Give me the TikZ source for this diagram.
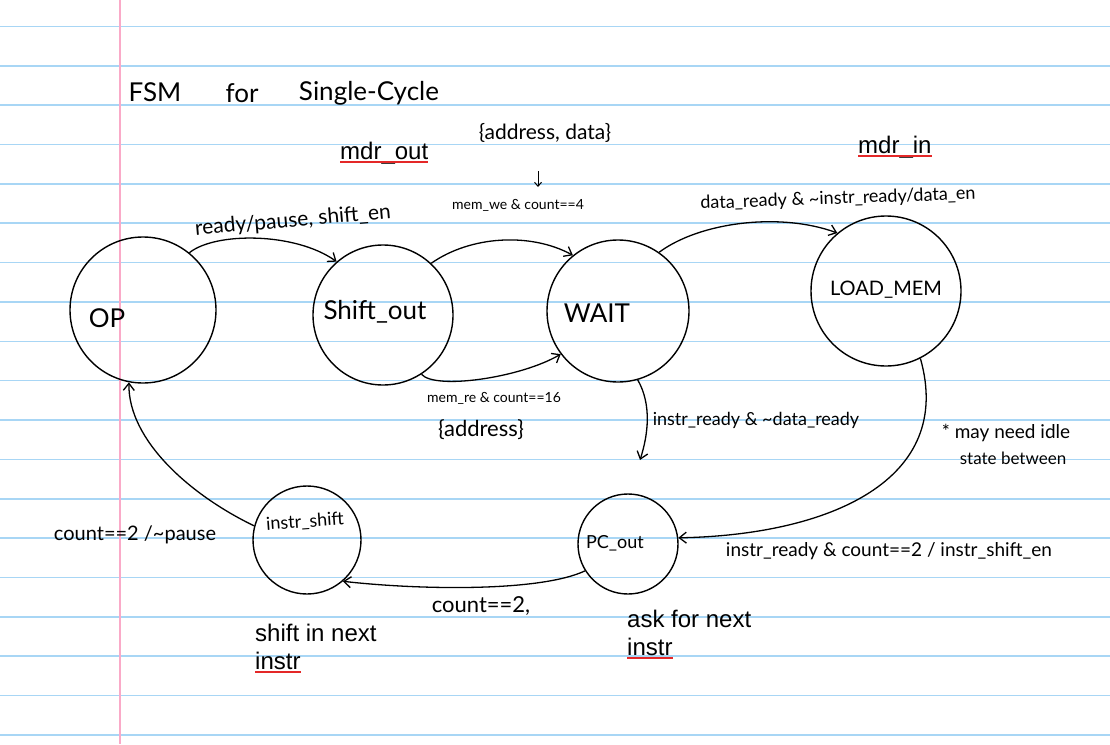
\documentclass[tikz,border=0pt]{standalone}
\usepackage{fontspec}
\usetikzlibrary{arrows.meta}
\newfontfamily\handfont{Lato}
\newfontfamily\typedfont{Liberation Sans}
\definecolor{ruleblue}{RGB}{168,214,245}
\definecolor{marginpink}{RGB}{250,170,200}
\definecolor{squiggle}{RGB}{228,40,40}
\tikzset{
  fsmstate/.style={circle, draw=black, line width=1.4pt, minimum size=#1, inner sep=0pt},
  hs/.style={font=\handfont\fontsize{#1}{#1}\selectfont, inner sep=0pt},
  tr/.style={-{Straight Barb[length=7pt,width=11pt]}, line width=1.3pt},
  typed/.style={font=\typedfont\fontsize{24}{28}\selectfont, inner sep=0pt, anchor=base west},
  squig/.style={squiggle, line width=2pt},
}
\begin{document}
\begin{tikzpicture}[x=1pt,y=-1pt]
\useasboundingbox (0,0) rectangle (1110,744);
\fill[white] (0,0) rectangle (1110,744);
\foreach \k in {0,...,18} \draw[ruleblue, line width=1.6pt] (0,26.5+39.35*\k) -- (1110,26.5+39.35*\k);
\draw[marginpink, line width=1.4pt] (120,0) -- (120,744);

% title
\node[hs=26] (t1) at (155,92) {FSM};
\node[hs=26] (t2) at (242,93) {for};
\node[hs=26] (t3) at (369,93) {Single-Cycle};

% states
\node[fsmstate=146pt] (op) at (143,310) {};
\node[fsmstate=140pt] (so) at (383,315) {};
\node[fsmstate=142pt] (wait) at (618,311) {};
\node[fsmstate=150pt] (lm) at (886,291) {};
\node[fsmstate=108pt] (is) at (307,540) {};
\node[fsmstate=100pt] (pc) at (628,544) {};

\node[hs=26] (opT) at (107,318) {OP};
\node[hs=26] (soT) at (375,312) {Shift\_out};
\node[hs=26] (waitT) at (597,313) {WAIT};
\node[hs=20] (lmT) at (886,290) {LOAD\_MEM};
\node[hs=18, rotate=4] (isT) at (305,522) {instr\_shift};
\node[hs=18] (pcT) at (615,543) {PC\_out};

% transitions
\draw[tr] (op.51) .. controls (215,232) and (295,232) .. (so.131);
\draw[tr] (so.47) .. controls (470,236) and (530,232) .. (wait.129);
\draw[tr] (so.-57) .. controls (435,390) and (520,378) .. (wait.217);
\draw[tr] (wait.55) .. controls (700,222) and (780,212) .. (lm.130);
\coordinate (pcIn) at (640,460);
\draw[tr] (wait.-74) .. controls (652,405) and (648,435) .. (pcIn);
\draw[tr] (lm.-63) .. controls (955,480) and (830,535) .. (pc.7);
\draw[tr] (pc.212) .. controls (540,592) and (420,590) .. (is.-49);
\draw[tr] (is.165) .. controls (190,495) and (128,440) .. (op.259);

% small arrow under {address, data}
\coordinate (adT) at (538,171);
\coordinate (adB) at (538,187);
\draw[-{Straight Barb[length=4pt,width=7pt]}, line width=1pt] (adT) -- (adB);

% labels
\node[hs=21, rotate=5] (l1) at (293,221) {ready/pause, shift\_en};
\node[hs=14] (l2) at (518,205) {mem\_we \& count==4};
\node[hs=21] (l2b) at (545,133) {\{address, data\}};
\node[hs=14] (l3) at (494,398) {mem\_re \& count==16};
\node[hs=22] (l3b) at (481,430) {\{address\}};
\node[hs=18, rotate=2] (l4) at (838,199) {data\_ready \& \textasciitilde instr\_ready/data\_en};
\node[hs=18] (l5) at (756,420) {instr\_ready \& \textasciitilde data\_ready};
\node[hs=19] (l6) at (889,551) {instr\_ready \& count==2 / instr\_shift\_en};
\node[hs=19] (n1) at (1006,433) {* may need idle};
\node[hs=17] (n2) at (1013,458) {state between};
\node[hs=20] (l7) at (135,535) {count==2 /\textasciitilde pause};
\node[hs=22] (l8) at (481,606) {count==2,};

% typed notes
\node[typed] (mo) at (340,159) {mdr\_out};
\draw[squig] ([yshift=-3pt]mo.base west) -- ([yshift=-3pt]mo.base east);
\node[typed] (mi) at (858,153) {mdr\_in};
\draw[squig] ([yshift=-3pt]mi.base west) -- ([yshift=-3pt]mi.base east);
\node[typed] (sn1) at (255,641) {shift in next};
\node[typed] (sn2) at (255,669) {instr};
\draw[squig] ([yshift=-3pt]sn2.base west) -- ([yshift=-3pt]sn2.base east);
\node[typed] (an1) at (627,627) {ask for next};
\node[typed] (an2) at (627,655) {instr};
\draw[squig] ([yshift=-3pt]an2.base west) -- ([yshift=-3pt]an2.base east);
\end{tikzpicture}
\end{document}
